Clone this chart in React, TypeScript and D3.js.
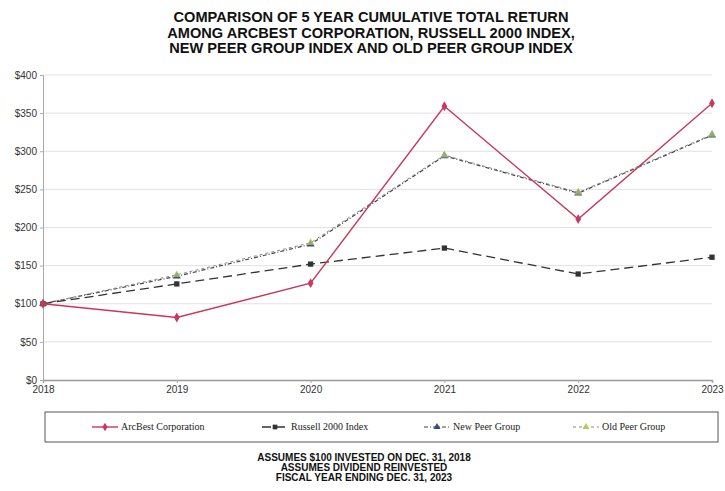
import React, { useEffect, useRef } from "react";
import * as d3 from "d3";

const years = ["2018", "2019", "2020", "2021", "2022", "2023"];
const arcBest = [100, 82, 127, 359, 211, 363];
const russell = [100, 126, 152, 173, 139, 161];
const newPeer = [100, 136, 178, 294, 245, 321];
const oldPeer = [100, 138, 180, 295, 246, 322];
const yTicks = [0, 50, 100, 150, 200, 250, 300, 350, 400];
const titleLines = [
  "COMPARISON OF 5 YEAR CUMULATIVE TOTAL RETURN",
  "AMONG ARCBEST CORPORATION, RUSSELL 2000 INDEX,",
  "NEW PEER GROUP INDEX AND OLD PEER GROUP INDEX",
];
const noteLines = [
  "ASSUMES $100 INVESTED ON DEC. 31, 2018",
  "ASSUMES DIVIDEND REINVESTED",
  "FISCAL YEAR ENDING DEC. 31, 2023",
];

const series = [
  { name: "ArcBest Corporation", values: arcBest, color: "#c9365f", dash: "", marker: d3.symbolDiamond, fill: "#c9365f", width: 1.4 },
  { name: "Russell 2000 Index", values: russell, color: "#333", dash: "9,5", marker: d3.symbolSquare, fill: "#333", width: 1.3 },
  { name: "New Peer Group", values: newPeer, color: "#444", dash: "4,2,1,2", marker: d3.symbolTriangle, fill: "#3a4a80", width: 1.2 },
  { name: "Old Peer Group", values: oldPeer, color: "#888", dash: "3,3", marker: d3.symbolTriangle, fill: "#b8c860", width: 1 },
];
// drawing order: peers first, old peer markers over new peer, ArcBest on top
const drawOrder = [2, 3, 1, 0];

const W = 725;
const H = 491;
const sans = "'Liberation Sans Narrow', 'Arial Narrow', 'Liberation Sans', Arial, sans-serif";

const App: React.FC = () => {
  const ref = useRef<SVGSVGElement>(null);

  useEffect(() => {
    const svg = d3.select(ref.current);
    svg.selectAll("*").remove();

    const x = d3.scalePoint().domain(years).range([43, 712]);
    const y = d3.scaleLinear().domain([0, 400]).range([380, 75]);

    // title
    svg
      .append("g")
      .selectAll("text")
      .data(titleLines)
      .join("text")
      .attr("x", 371)
      .attr("y", (d, i) => 22 + i * 15.5)
      .attr("text-anchor", "middle")
      .attr("font-family", sans)
      .attr("font-weight", "bold")
      .attr("font-size", 14.6)
      .attr("fill", "#111")
      .text((d) => d);

    // grid
    svg
      .append("g")
      .selectAll("line")
      .data(yTicks.filter((d) => d > 0))
      .join("line")
      .attr("x1", 43)
      .attr("x2", 712)
      .attr("y1", (d) => y(d))
      .attr("y2", (d) => y(d))
      .attr("stroke", "#e2e2e2")
      .attr("stroke-width", 1);

    // y axis
    const yAxis = svg.append("g").attr("transform", "translate(43,0)").call(
      d3
        .axisLeft(y)
        .tickValues(yTicks)
        .tickSize(3)
        .tickFormat((d) => `$${d}`),
    );
    yAxis.select(".domain").attr("stroke", "#aaa");
    yAxis.selectAll(".tick line").attr("stroke", "#aaa");
    yAxis.selectAll("text").attr("font-family", sans).attr("font-size", 10).attr("fill", "#333");

    // x axis
    const xAxis = svg.append("g").attr("transform", "translate(0,380)").call(d3.axisBottom(x).tickSize(3));
    xAxis.select(".domain").attr("stroke", "#999").attr("stroke-width", 1.5);
    xAxis.selectAll(".tick line").attr("stroke", "#aaa");
    xAxis.selectAll("text").attr("font-family", sans).attr("font-size", 10).attr("fill", "#333");

    const line = d3
      .line<number>()
      .x((d, i) => x(years[i])!)
      .y((d) => y(d));

    const plot = svg.append("g");
    drawOrder.forEach((k) => {
      const s = series[k];
      plot
        .append("path")
        .attr("d", line(s.values))
        .attr("fill", "none")
        .attr("stroke", s.color)
        .attr("stroke-width", s.width)
        .attr("stroke-dasharray", s.dash);
      plot
        .append("g")
        .selectAll("path")
        .data(s.values)
        .join("path")
        .attr("transform", (d, i) => `translate(${x(years[i])},${y(d)})`)
        .attr("d", d3.symbol().type(s.marker).size(28)())
        .attr("fill", s.fill)
        .attr("fill-opacity", k === 3 ? 0.75 : 1)
        .attr("stroke", "none");
    });

    // legend
    svg
      .append("rect")
      .attr("x", 45)
      .attr("y", 412)
      .attr("width", 673)
      .attr("height", 30)
      .attr("fill", "white")
      .attr("stroke", "#555")
      .attr("stroke-width", 1);
    const legendX = [92, 262, 424, 573];
    series.forEach((s, i) => {
      const g = svg.append("g").attr("transform", `translate(${legendX[i]},427)`);
      g.append("line")
        .attr("x1", 0)
        .attr("x2", 26)
        .attr("stroke", s.color)
        .attr("stroke-width", s.width)
        .attr("stroke-dasharray", s.dash);
      g.append("path")
        .attr("transform", "translate(13,0)")
        .attr("d", d3.symbol().type(s.marker).size(22)())
        .attr("fill", s.fill);
      g.append("text")
        .attr("x", 29)
        .attr("dy", "0.33em")
        .attr("font-family", "'Liberation Serif', 'Times New Roman', serif")
        .attr("font-size", 10)
        .attr("fill", "#222")
        .text(s.name);
    });

    // notes
    svg
      .append("g")
      .selectAll("text")
      .data(noteLines)
      .join("text")
      .attr("x", 364)
      .attr("y", (d, i) => 461 + i * 10)
      .attr("text-anchor", "middle")
      .attr("font-family", sans)
      .attr("font-weight", "bold")
      .attr("font-size", 10)
      .attr("fill", "#111")
      .text((d) => d);
  }, []);

  return (
    <svg
      ref={ref}
      width={W}
      height={H}
      style={{ position: "absolute", left: 0, top: 0, background: "white" }}
    />
  );
};

export default App;
